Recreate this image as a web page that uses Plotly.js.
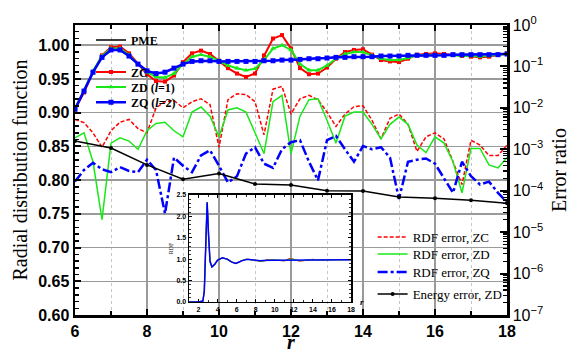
<!DOCTYPE html>
<html><head><meta charset="utf-8">
<script src="https://cdn.plot.ly/plotly-3.0.1.min.js"></script>
<style>html,body{margin:0;padding:0;background:#fff}#chart{width:577px;height:356px}</style>
</head><body><div id="chart"></div>
<script>
// ---- data ----
const r = [6.0,6.25,6.5,6.75,7.0,7.25,7.5,7.75,8.0,8.25,8.5,8.75,9.0,9.25,9.5,9.75,10.0,10.25,10.5,10.75,11.0,11.25,11.5,11.75,12.0,12.25,12.5,12.75,13.0,13.25,13.5,13.75,14.0,14.25,14.5,14.75,15.0,15.25,15.5,15.75,16.0,16.25,16.5,16.75,17.0,17.25,17.5,17.75,18.0];
const rdfPME = [0.905,0.932,0.960,0.982,0.993,0.993,0.984,0.972,0.962,0.958,0.960,0.966,0.972,0.976,0.977,0.977,0.976,0.976,0.976,0.976,0.976,0.977,0.977,0.978,0.978,0.979,0.980,0.980,0.981,0.982,0.982,0.983,0.983,0.983,0.984,0.984,0.984,0.985,0.985,0.985,0.985,0.985,0.986,0.986,0.986,0.986,0.986,0.986,0.987];
const rdfZC = [0.905,0.930,0.960,0.985,0.997,0.998,0.988,0.972,0.957,0.947,0.946,0.955,0.975,0.988,0.992,0.987,0.977,0.966,0.958,0.953,0.958,0.985,1.010,1.015,0.995,0.966,0.957,0.958,0.967,0.980,0.990,0.993,0.994,0.986,0.978,0.976,0.975,0.980,0.986,0.987,0.988,0.987,0.986,0.984,0.983,0.982,0.983,0.986,0.988];
const rdfZD = [0.907,0.933,0.962,0.984,0.995,0.995,0.986,0.972,0.960,0.953,0.952,0.958,0.972,0.983,0.986,0.983,0.977,0.970,0.966,0.963,0.965,0.978,0.995,1.000,0.993,0.972,0.963,0.963,0.970,0.980,0.987,0.990,0.990,0.985,0.980,0.978,0.978,0.981,0.985,0.986,0.986,0.986,0.985,0.984,0.984,0.983,0.984,0.986,0.987];
const rdfZQ = [0.905,0.932,0.960,0.982,0.993,0.993,0.984,0.972,0.962,0.958,0.960,0.966,0.972,0.976,0.977,0.977,0.976,0.976,0.976,0.976,0.976,0.977,0.977,0.978,0.978,0.979,0.980,0.980,0.981,0.982,0.982,0.983,0.983,0.983,0.984,0.984,0.984,0.985,0.985,0.985,0.985,0.985,0.986,0.986,0.986,0.986,0.986,0.986,0.987];

const errZC = [5.25e-3,4.4e-3,2.5e-3,1.12e-3,2.8e-3,4.5e-3,5.25e-3,3.16e-3,2.5e-3,1.0e-2,1.41e-2,1.51e-2,1.0e-2,1.41e-2,1.66e-2,1.2e-2,1.12e-3,1.58e-2,2.19e-2,2.09e-2,1.41e-2,2.24e-3,2.82e-2,3.31e-2,7.1e-3,1.66e-2,2.0e-2,1.58e-2,7.9e-3,3.55e-3,7.1e-3,1.07e-2,1.12e-2,5.0e-3,1.78e-3,5.6e-3,7.1e-3,4.0e-3,8.9e-4,2.0e-3,2.5e-3,1.78e-3,5.0e-4,1.41e-4,1.66e-3,1.26e-3,7.1e-4,7.1e-4,1.26e-3];
const errZD = [1.9e-3,2.5e-3,5.0e-4,2.0e-5,1.41e-3,1.9e-3,1.58e-3,1.0e-3,2.8e-3,4.2e-3,4.5e-3,2.8e-3,2.0e-3,7.9e-3,1.05e-2,6.3e-3,2.0e-3,8.9e-3,1.0e-2,7.9e-3,2.5e-3,7.9e-4,1.41e-2,2.0e-2,7.9e-4,6.3e-3,1.58e-2,1.66e-2,5.0e-3,1.41e-3,6.3e-3,7.9e-3,7.9e-3,4.0e-3,1.78e-3,4.0e-3,6.0e-3,4.0e-3,1.26e-3,8.3e-4,2.0e-3,1.41e-3,5.0e-4,8.9e-5,1.05e-3,1.05e-3,4.2e-4,3.55e-4,6.3e-4];
const errZQ = [1.66e-4,3.16e-4,4.7e-4,3.3e-4,2.8e-4,3.7e-4,3.0e-4,2.8e-4,5.6e-4,3.16e-4,2.8e-5,6.3e-4,4.0e-4,2.8e-4,7.1e-4,9.5e-4,4.0e-4,1.58e-4,2.24e-4,7.9e-4,1.12e-3,4.5e-4,3.55e-4,1.0e-3,1.48e-3,1.66e-3,5.0e-4,1.78e-4,1.66e-3,2.1e-3,1.0e-3,5.0e-4,1.2e-3,1.0e-3,1.12e-3,6.3e-4,6.3e-5,5.0e-4,5.6e-4,6.0e-4,4.5e-4,2.0e-4,8.9e-5,5.0e-4,2.24e-4,1.41e-4,1.66e-4,8.9e-5,5.25e-5];

const rEnergy = [6,7,8,9,10,11,12,13,14,15,16,17,18];
const errEnergy = [1.58e-3,1.07e-3,4.2e-4,1.9e-4,2.6e-4,1.45e-4,1.38e-4,1.0e-4,9.8e-5,7.1e-5,6.6e-5,5.9e-5,5.0e-5];

// inset: short-range part of the RDF (r < 6), continued by the main arrays
const rShort = [1.0,2.0,2.45,2.6,2.75,2.9,3.05,3.2,3.4,3.7,4.0,4.5,5.0,5.5,5.9];
const rdfShort = [0,0,0.02,0.25,1.3,2.33,1.55,0.95,0.82,0.88,0.98,1.03,1.0,0.93,0.9];

const errTickVals = [1,1e-1,1e-2,1e-3,1e-4,1e-5,1e-6,1e-7];
const errTickText = ['10<sup>0</sup>','10<sup>\u22121</sup>','10<sup>\u22122</sup>','10<sup>\u22123</sup>','10<sup>\u22124</sup>','10<sup>\u22125</sup>','10<sup>\u22126</sup>','10<sup>\u22127</sup>'];

// ---- styling helpers ----
const RED='#ff0000', GREEN='#18e818', BLUE='#0000ff';
const minorLog=[];
for(let e=-7;e<0;e++){for(let m=2;m<=9;m++){minorLog.push(m*Math.pow(10,e));}}
function leg(x,y,size,weight){return {x:x,y:y,xanchor:'left',yanchor:'middle',bgcolor:'rgba(0,0,0,0)',borderwidth:0,itemwidth:30,font:{family:'Liberation Serif',size:size,color:'#000',weight:weight}};}

const insetR = rShort.concat(r);
const traces = [
  {x:r,y:errZC,yaxis:'y2',mode:'lines',name:'RDF error, ZC',legend:'legend5',line:{color:RED,width:1.5,dash:'4px,2px'}},
  {x:r,y:errZD,yaxis:'y2',mode:'lines',name:'RDF error, ZD',legend:'legend6',line:{color:GREEN,width:1.5}},
  {x:r,y:errZQ,yaxis:'y2',mode:'lines',name:'RDF error, ZQ',legend:'legend7',line:{color:BLUE,width:2.5,dash:'10px,3px,3px,3px'}},
  {x:rEnergy,y:errEnergy,yaxis:'y2',mode:'lines+markers',name:'Energy error, ZD',legend:'legend8',line:{color:'#000',width:1.5},marker:{color:'#000',size:4,symbol:'circle'}},
  {x:r,y:rdfPME,mode:'lines',name:'PME',legend:'legend',line:{color:'#000',width:1.5}},
  {x:r,y:rdfZC,mode:'lines+markers',name:'ZC',legend:'legend2',line:{color:RED,width:2},marker:{color:RED,size:4,symbol:'square'}},
  {x:r,y:rdfZD,mode:'lines+markers',name:'ZD (<i>l</i>=1)',legend:'legend3',line:{color:GREEN,width:2},marker:{color:GREEN,size:5,symbol:'triangle-up'}},
  {x:r,y:rdfZQ,mode:'lines+markers',name:'ZQ (<i>l</i>=2)',legend:'legend4',line:{color:BLUE,width:2.5},marker:{color:BLUE,size:5,symbol:'square'}},
  {x:insetR,y:rdfShort.concat(rdfZC),xaxis:'x2',yaxis:'y3',mode:'lines',showlegend:false,line:{color:RED,width:1.2}},
  {x:insetR,y:rdfShort.concat(rdfZD),xaxis:'x2',yaxis:'y3',mode:'lines',showlegend:false,line:{color:GREEN,width:1.2}},
  {x:insetR,y:rdfShort.concat(rdfZQ),xaxis:'x2',yaxis:'y3',mode:'lines',showlegend:false,line:{color:BLUE,width:1.5}}
];

const tickBold = {family:'Liberation Sans',size:16,color:'#000',weight:'bold'};
const insetFont = {family:'Liberation Sans',size:7,color:'#000',weight:'bold'};
const layout = {
  width:577,height:356,
  margin:{l:75,r:70,t:25,b:41,pad:0},
  paper_bgcolor:'#ffffff',plot_bgcolor:'rgba(0,0,0,0)',
  font:{family:'Liberation Serif',color:'#000'},
  xaxis:{domain:[0,1],range:[6,18],tick0:6,dtick:2,ticks:'inside',ticklen:6,tickwidth:2,tickcolor:'#000',
    showline:true,linewidth:2.5,linecolor:'#000',mirror:'ticks',showgrid:true,gridcolor:'#9a9a9a',gridwidth:1.5,zeroline:false,
    tickfont:tickBold,
    minor:{dtick:1,ticks:'inside',ticklen:4,tickwidth:1.5,tickcolor:'#000',showgrid:true,gridcolor:'#c4c4c4',griddash:'dot',gridwidth:1}},
  yaxis:{range:[0.6,1.03],tick0:0.6,dtick:0.05,tickformat:'.2f',ticks:'inside',ticklen:6,tickwidth:2,tickcolor:'#000',
    showline:true,linewidth:2.5,linecolor:'#000',mirror:false,showgrid:true,gridcolor:'#9a9a9a',gridwidth:1.5,zeroline:false,
    tickfont:tickBold,
    minor:{dtick:0.01,ticks:'inside',ticklen:4,tickwidth:1.5,tickcolor:'#000',showgrid:false},
    title:{text:'Radial distribution function',font:{family:'Liberation Serif',size:20,color:'#000'},standoff:5}},
  yaxis2:{overlaying:'y',side:'right',type:'log',range:[-7,0],tickmode:'array',tickvals:errTickVals,ticktext:errTickText,
    ticks:'inside',ticklen:7,tickwidth:2,tickcolor:'#000',showline:true,linewidth:2.5,linecolor:'#000',showgrid:false,zeroline:false,
    tickfont:{family:'Liberation Sans',size:16,color:'#000'},
    minor:{tickmode:'array',tickvals:minorLog,ticks:'inside',ticklen:4,tickwidth:1.2,tickcolor:'#000',showgrid:false},
    title:{text:'Error ratio',font:{family:'Liberation Serif',size:20,color:'#000'},standoff:10}},
  xaxis2:{domain:[0.264,0.639],anchor:'y3',range:[1,18],tick0:0,dtick:2,ticks:'inside',ticklen:3,tickwidth:1,tickcolor:'#000',
    showline:true,linewidth:1.5,linecolor:'#000',mirror:'ticks',showgrid:false,zeroline:false,tickfont:insetFont,
    minor:{dtick:1,ticks:'inside',ticklen:2,tickwidth:0.8,tickcolor:'#000'}},
  yaxis3:{domain:[0.045,0.414],anchor:'x2',range:[0,2.5],tick0:0,dtick:0.5,tickformat:'.1f',ticks:'inside',ticklen:3,tickwidth:1,tickcolor:'#000',
    showline:true,linewidth:1.5,linecolor:'#000',mirror:'ticks',showgrid:false,zeroline:false,tickfont:insetFont,
    minor:{dtick:0.1,ticks:'inside',ticklen:2,tickwidth:0.8,tickcolor:'#000'},
    title:{text:'RDF',font:{family:'Liberation Serif',size:6,color:'#000'},standoff:2}},
  legend:leg(0.037,0.948,12,'bold'),
  legend2:leg(0.037,0.838,12,'bold'),
  legend3:leg(0.037,0.786,12,'bold'),
  legend4:leg(0.037,0.734,12,'bold'),
  legend5:leg(0.689,0.269,13,'normal'),
  legend6:leg(0.689,0.210,13,'normal'),
  legend7:leg(0.689,0.148,13,'normal'),
  legend8:leg(0.689,0.072,13,'normal'),
  annotations:[
    {xref:'paper',yref:'paper',x:0.5,y:-0.139,text:'<b><i>r</i></b>',showarrow:false,font:{family:'Liberation Serif',size:20,color:'#000'},xanchor:'center',yanchor:'bottom'},
    {xref:'paper',yref:'paper',x:0.664,y:0.045,text:'<b><i>r</i></b>',showarrow:false,font:{family:'Liberation Serif',size:9,color:'#000'},xanchor:'center',yanchor:'middle'}
  ]
};
Plotly.newPlot('chart',traces,layout,{displayModeBar:false,staticPlot:true});
</script>
</body></html>
